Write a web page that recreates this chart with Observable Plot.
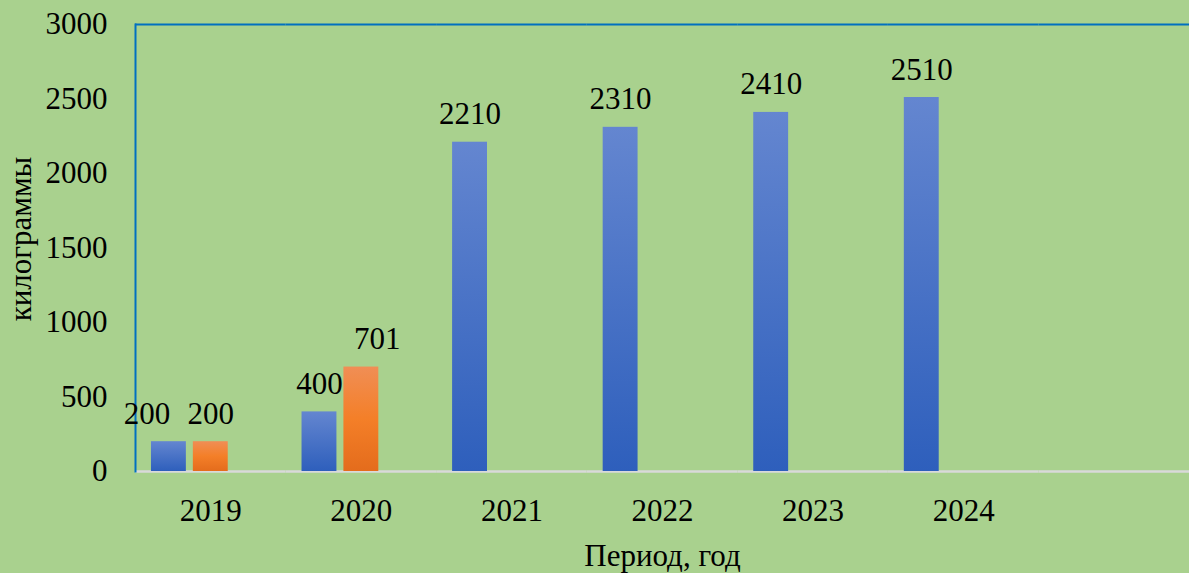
<!DOCTYPE html>
<html>
<head>
<meta charset="utf-8">
<script src="https://cdn.jsdelivr.net/npm/d3@7"></script>
<script src="https://cdn.jsdelivr.net/npm/@observablehq/plot@0.6"></script>
<style>
  html, body { margin: 0; padding: 0; background: #a9d18e; }
  #chart { width: 1189px; height: 573px; overflow: hidden; }
</style>
</head>
<body>
<div id="chart"></div>
<script>
const years = ["2019", "2020", "2021", "2022", "2023", "2024"];
const blueValues = [200, 400, 2210, 2310, 2410, 2510];
const orangeValues = [200, 701, null, null, null, null];
const seriesNames = ["ряд1", "ряд2", "ряд3"];
const yTicks = [0, 500, 1000, 1500, 2000, 2500, 3000];
const yLabel = "килограммы";
const xLabel = "Период, год";

const rows = [];
years.forEach((y, i) => {
  if (blueValues[i] != null) rows.push({year: y, series: seriesNames[0], value: blueValues[i]});
  if (orangeValues[i] != null) rows.push({year: y, series: seriesNames[1], value: orangeValues[i]});
});
const blueRows = rows.filter(d => d.series === seriesNames[0]);
const orangeRows = rows.filter(d => d.series === seriesNames[1]);
const fxDomain = [...years, " "];
const facetCells = fxDomain.map(f => ({year: f}));

const FS = 31;
const font = "'Liberation Serif', 'Times New Roman', serif";

const isBlue2019 = d => d.year === years[0] && d.series === seriesNames[0];
const isOrange2020 = d => d.year === years[1] && d.series === seriesNames[1];

const svg = Plot.plot({
  width: 1189,
  height: 573,
  marginLeft: 135,
  marginRight: 0,
  marginTop: 24,
  marginBottom: 102,
  style: {background: "#a9d18e", fontFamily: font, fontSize: FS + "px", color: "black"},
  fx: {domain: fxDomain, padding: 0, round: false},
  x: {domain: seriesNames, paddingInner: 1 / 6, paddingOuter: 0.381, axis: null, round: false},
  y: {domain: [0, 3000]},
  marks: [
    Plot.ruleY(facetCells, {fx: "year", y: () => 0, stroke: "#d9d9d9", strokeWidth: 2.5}),
    Plot.ruleY(facetCells, {fx: "year", y: () => 3000, stroke: "#0070c0", strokeWidth: 2}),
    Plot.frame({anchor: "left", stroke: "#0070c0", strokeWidth: 2, fx: () => years[0]}),
    Plot.barY(blueRows, {fx: "year", x: "series", y: "value", fill: "url(#gradBlue)"}),
    Plot.barY(orangeRows, {fx: "year", x: "series", y: "value", fill: "url(#gradOrange)"}),
    Plot.text(rows.filter(d => !isBlue2019(d) && !isOrange2020(d)), {
      fx: "year", x: "series", y: "value", text: d => String(d.value),
      lineAnchor: "bottom", dy: -18, fontSize: FS, fill: "black"
    }),
    Plot.text(rows.filter(isBlue2019), {
      fx: "year", x: "series", y: "value", text: d => String(d.value),
      lineAnchor: "bottom", dy: -18, dx: -22, fontSize: FS, fill: "black"
    }),
    Plot.text(rows.filter(isOrange2020), {
      fx: "year", x: "series", y: "value", text: d => String(d.value),
      lineAnchor: "bottom", dy: -18, dx: 16, fontSize: FS, fill: "black"
    }),
    Plot.text([yLabel], {
      fx: () => years[0], text: d => d, frameAnchor: "left", rotate: -90,
      textAnchor: "middle", dx: -114, dy: -9, lineAnchor: "middle", fontSize: FS, fill: "black"
    }),
    Plot.axisY({ticks: yTicks, tickSize: 0, tickPadding: 28, fontSize: FS,
      label: null, tickFormat: d => String(d)}),
    Plot.axisFx({anchor: "bottom", tickSize: 0, tickPadding: 27, fontSize: FS,
      label: xLabel, labelAnchor: "center", labelOffset: 94, labelArrow: "none"})
  ]
});

const defs = d3.select(svg).insert("defs", ":first-child");
const gb = defs.append("linearGradient").attr("id", "gradBlue").attr("x1", 0).attr("y1", 0).attr("x2", 0).attr("y2", 1);
gb.append("stop").attr("offset", "0%").attr("stop-color", "#6486d0");
gb.append("stop").attr("offset", "100%").attr("stop-color", "#2e5fbc");
const go = defs.append("linearGradient").attr("id", "gradOrange").attr("x1", 0).attr("y1", 0).attr("x2", 0).attr("y2", 1);
go.append("stop").attr("offset", "0%").attr("stop-color", "#f08e55");
go.append("stop").attr("offset", "50%").attr("stop-color", "#f47f28");
go.append("stop").attr("offset", "100%").attr("stop-color", "#e46c1c");

document.getElementById("chart").appendChild(svg);
</script>
</body>
</html>
